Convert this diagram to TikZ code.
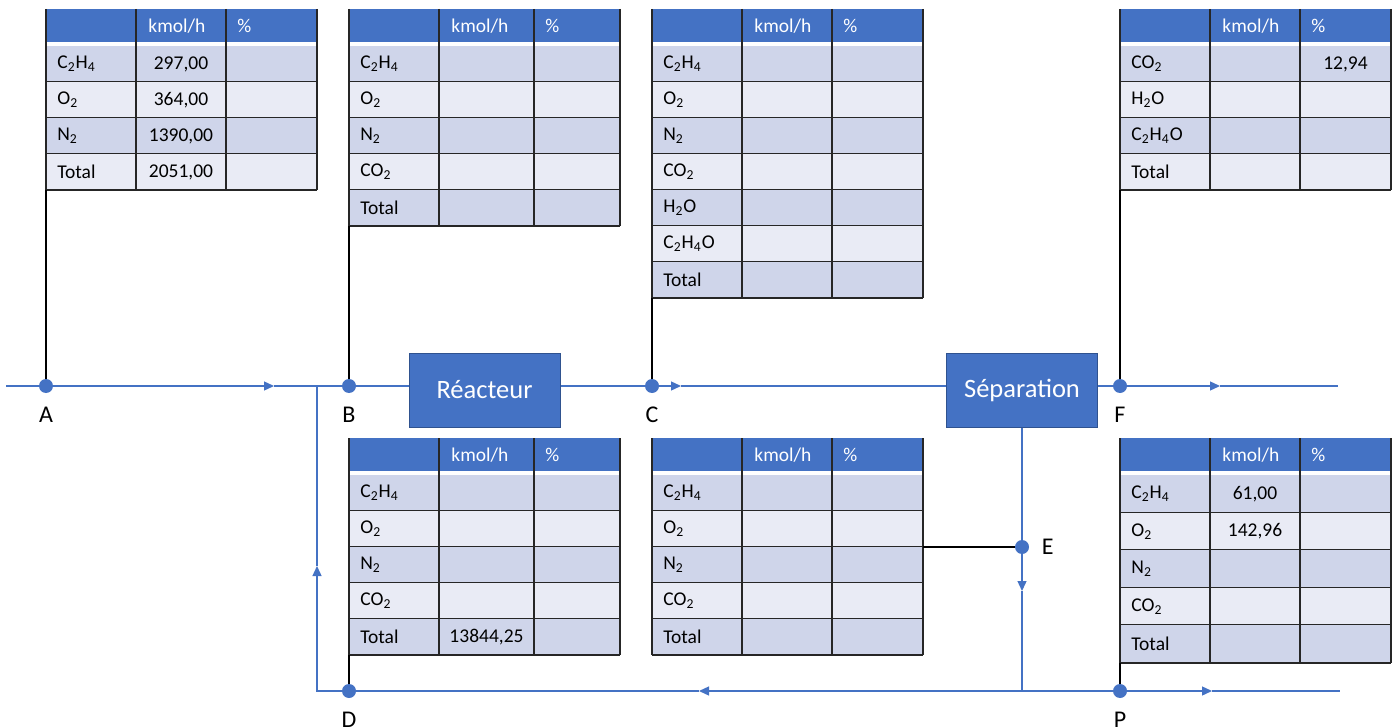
\documentclass[tikz,border=0pt]{standalone}
\usepackage{fontspec}
\setmainfont{Carlito}
\usepackage{tikz}
\usetikzlibrary{arrows.meta, positioning}

\definecolor{flowblue}{HTML}{4472C4}
\definecolor{boxedge}{HTML}{2F528F}
\definecolor{rowdark}{HTML}{CFD5EA}
\definecolor{rowlight}{HTML}{E9EBF5}
\definecolor{gridgray}{HTML}{262626}

\tikzset{
  flow/.style={draw=flowblue, line width=0.65pt},
  tipend/.style={-{Triangle[length=5pt,width=4.5pt]}},
  stem/.style={draw=black, line width=1pt},
  grid/.style={draw=gridgray, line width=1pt},
  dot/.style={circle, fill=flowblue, inner sep=0pt, minimum size=7pt},
  ptname/.style={font=\fontsize{12}{14}\selectfont, inner sep=0pt},
  unit/.style={rectangle, fill=flowblue, draw=boxedge, line width=0.5pt, text=white,
    minimum width=75.5pt, minimum height=37pt, font=\fontsize{13.25}{15}\selectfont},
  headtext/.style={text=white, font=\fontsize{9.75}{11}\selectfont, inner sep=0pt, anchor=west},
  celltext/.style={font=\fontsize{9.75}{11}\selectfont, inner sep=0pt},
}

% table of a stream: #1 name, #2/#3 top left, #4 row height, #5 width of kmol/h column, #6 rows
\newcommand{\comptable}[6]{%
  \fill[flowblue] (#2,#3) rectangle ++(271,33);
  \draw[grid] (#2,#3) -- ++(0,37) (#2+90,#3) -- ++(0,37)
    (#2+90+#5,#3) -- ++(0,37) (#2+271,#3) -- ++(0,37);
  \node[headtext] (#1-h1) at (#2+102,#3+17) {kmol/h};
  \node[headtext] (#1-h2) at (#2+101+#5,#3+17) {\%};
  \foreach \lab/\val/\pct [count=\i] in {#6}{
    \pgfmathsetmacro{\ytop}{#3+37+(\i-1)*#4}
    \ifodd\i\relax \def\rowfill{rowdark}\else \def\rowfill{rowlight}\fi
    \fill[\rowfill] (#2,\ytop) rectangle ++(271,#4);
    \draw[grid] (#2,\ytop+#4) -- ++(271,0);
    \draw[grid] (#2,\ytop) -- ++(0,#4) (#2+90,\ytop) -- ++(0,#4)
      (#2+90+#5,\ytop) -- ++(0,#4) (#2+271,\ytop) -- ++(0,#4);
    \node[celltext, anchor=west] (#1-\i-lab) at (#2+11,\ytop+#4/2) {\lab};
    \node[celltext] (#1-\i-val) at (#2+90+#5/2,\ytop+#4/2) {\val};
    \node[celltext] (#1-\i-pct) at (#2+90+#5+90.5-#5/2,\ytop+#4/2) {\pct};
    \coordinate (#1-\i-se) at (#2+271,\ytop+#4);
    \coordinate (#1-foot) at (#2,\ytop+#4);
  }%
}

\newcommand{\ethy}{C\textsubscript{2}H\textsubscript{4}}
\newcommand{\oxy}{O\textsubscript{2}}
\newcommand{\nitro}{N\textsubscript{2}}
\newcommand{\carbdiox}{CO\textsubscript{2}}
\newcommand{\water}{H\textsubscript{2}O}
\newcommand{\epox}{C\textsubscript{2}H\textsubscript{4}O}

\begin{document}
\begin{tikzpicture}[x=0.5pt, y=-0.5pt]
  \useasboundingbox (0,0) rectangle (1392,727);

  % tables
  \comptable{tabA}{46}{9}{36}{90}{\ethy/{297,00}/{}, \oxy/{364,00}/{}, \nitro/{1390,00}/{}, Total/{2051,00}/{}}
  \comptable{tabB}{349}{9}{36}{95}{\ethy/{}/{}, \oxy/{}/{}, \nitro/{}/{}, \carbdiox/{}/{}, Total/{}/{}}
  \comptable{tabC}{652}{9}{36}{90}{\ethy/{}/{}, \oxy/{}/{}, \nitro/{}/{}, \carbdiox/{}/{}, \water/{}/{}, \epox/{}/{}, Total/{}/{}}
  \comptable{tabF}{1120}{9}{36}{90}{\carbdiox/{}/{12,94}, \water/{}/{}, \epox/{}/{}, Total/{}/{}}
  \comptable{tabD}{349}{438}{36}{95}{\ethy/{}/{}, \oxy/{}/{}, \nitro/{}/{}, \carbdiox/{}/{}, Total/{13844,25}/{}}
  \comptable{tabE}{652}{438}{36}{90}{\ethy/{}/{}, \oxy/{}/{}, \nitro/{}/{}, \carbdiox/{}/{}, Total/{}/{}}
  \comptable{tabP}{1120}{438}{37.5}{90}{\ethy/{61,00}/{}, \oxy/{142,96}/{}, \nitro/{}/{}, \carbdiox/{}/{}, Total/{}/{}}

  % units and stream points
  \node[unit] (reac) at (484.5,390) {Réacteur};
  \node[unit] (sep) at (1022,390) {Séparation};

  \node[dot] (A) at (46,386) {};
  \node[dot] (B) at (349,386) {};
  \node[dot] (C) at (652,386) {};
  \node[dot] (F) at (1120,386) {};
  \node[dot] (E) at (1022,547) {};
  \node[dot] (D) at (349,691) {};
  \node[dot] (P) at (1120,691) {};

  \node[ptname, below=6.5pt of A] (A-name) {A};
  \node[ptname, below=6.5pt of B] (B-name) {B};
  \node[ptname, below=6.5pt of C] (C-name) {C};
  \node[ptname, below=6.5pt of F] (F-name) {F};
  \node[ptname, below=6.5pt of D] (D-name) {D};
  \node[ptname, below=6.5pt of P] (P-name) {P};
  \node[ptname, right=6pt of E] (E-name) {E};

  \coordinate (in) at (6,386);
  \coordinate (mix) at (317,386);
  \coordinate (out) at (1338,386);
  \coordinate (recyc) at (317,691);
  \coordinate (sepfoot) at (1022,691);
  \coordinate (purge) at (1340,691);
  \coordinate (tipA) at (274,386);
  \coordinate (tipC) at (681,386);
  \coordinate (tipF) at (1220,386);
  \coordinate (tipE) at (1022,591);
  \coordinate (tipR) at (699,691);
  \coordinate (tipU) at (317,566);
  \coordinate (tipP) at (1212,691);

  % stems from tables
  \draw[stem] (tabA-foot) -- (A);
  \draw[stem] (tabB-foot) -- (B);
  \draw[stem] (tabC-foot) -- (C);
  \draw[stem] (tabF-foot) -- (F);
  \draw[stem] (tabD-foot) -- (D);
  \draw[stem] (tabP-foot) -- (P);
  \draw[stem] (tabE-2-se) -- (E);

  % main line
  \draw[flow] (in) -- (A);
  \draw[flow, tipend] (A) -- (tipA);
  \draw[flow] (tipA) -- (B);
  \draw[flow] (B) -- (B -| reac.west);
  \draw[flow] (C -| reac.east) -- (C);
  \draw[flow, tipend] (C) -- (tipC);
  \draw[flow] (tipC) -- (C -| sep.west);
  \draw[flow] (F -| sep.east) -- (F);
  \draw[flow, tipend] (F) -- (tipF);
  \draw[flow] (tipF) -- (out);

  % separation bottom and recycle
  \draw[flow] (sep.south) -- (E);
  \draw[flow, tipend] (E) -- (tipE);
  \draw[flow] (tipE) -- (sepfoot);
  \draw[flow, tipend] (sepfoot) -- (tipR);
  \draw[flow] (tipR) -- (D);
  \draw[flow, tipend] (D) -- (recyc) -- (tipU);
  \draw[flow] (tipU) -- (mix);
  \draw[flow] (sepfoot) -- (P);
  \draw[flow, tipend] (P) -- (tipP);
  \draw[flow] (tipP) -- (purge);
\end{tikzpicture}
\end{document}
